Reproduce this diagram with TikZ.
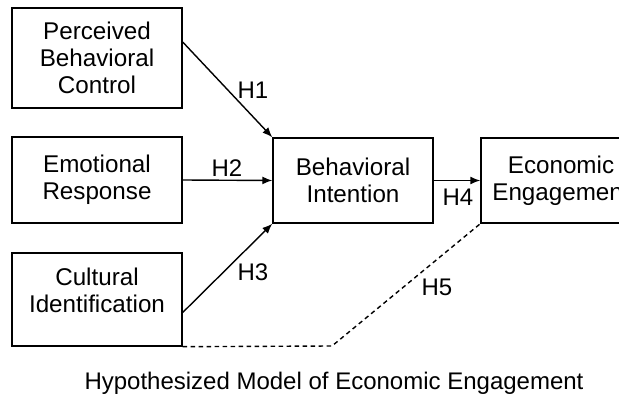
\documentclass[tikz,border=0pt]{standalone}
\usepackage{fontspec}
\setmainfont{Liberation Sans}
\usetikzlibrary{arrows.meta}
\begin{document}
\begin{tikzpicture}[x=1pt,y=-1pt,
  box/.style={draw, line width=1.4pt, inner sep=0pt},
  txt/.style={font=\fontsize{24.2}{27}\selectfont, align=center},
  conn/.style={line width=1.4pt, -{Latex[length=10pt,width=8pt]}},
  hyp/.style={line width=1.4pt, dash pattern=on 4.5pt off 3.5pt},
  hlab/.style={font=\fontsize{24}{27}\selectfont, inner sep=0pt}]
\useasboundingbox (0,0) rectangle (619,398);
\fill[white] (0,0) rectangle (619,398);
% boxes
\node[box, txt, minimum width=170pt, minimum height=100pt] (pbc) at (97,58) {Perceived\\Behavioral\\Control};
\node[box, txt, minimum width=170pt, minimum height=86pt] (er) at (97,180) {Emotional\\Response};
\node[box, minimum width=170pt, minimum height=93pt] (ci) at (97,299.5) {};
\node[txt] (citext) at (97,290) {Cultural\\Identification};
\node[box, txt, minimum width=160pt, minimum height=85pt] (bi) at (353,180.5) {Behavioral\\Intention};
\node[box, txt, minimum width=160pt, minimum height=85pt] (ee) at (561,180.5) {Economic\\Engagement};
% connectors
\draw[conn] ([yshift=16pt]pbc.east) -- (bi.north west);
\draw[conn] (er.east) -- (bi.west);
\draw[conn] ([yshift=-13pt]ci.east) -- (bi.south west);
\draw[conn] (bi.east) -- (ee.west);
\coordinate (bend) at (332,346);
\draw[hyp] (ci.south east) -- (bend) -- (ee.south west);
% labels
\node[hlab] (h1) at (253,90) {H1};
\node[hlab] (h2) at (227,168) {H2};
\node[hlab] (h3) at (253,272) {H3};
\node[hlab] (h4) at (458,197) {H4};
\node[hlab] (h5) at (437,287) {H5};
\node[font=\fontsize{24}{27}\selectfont] (cap) at (334,383) {Hypothesized Model of Economic Engagement};
\end{tikzpicture}
\end{document}
